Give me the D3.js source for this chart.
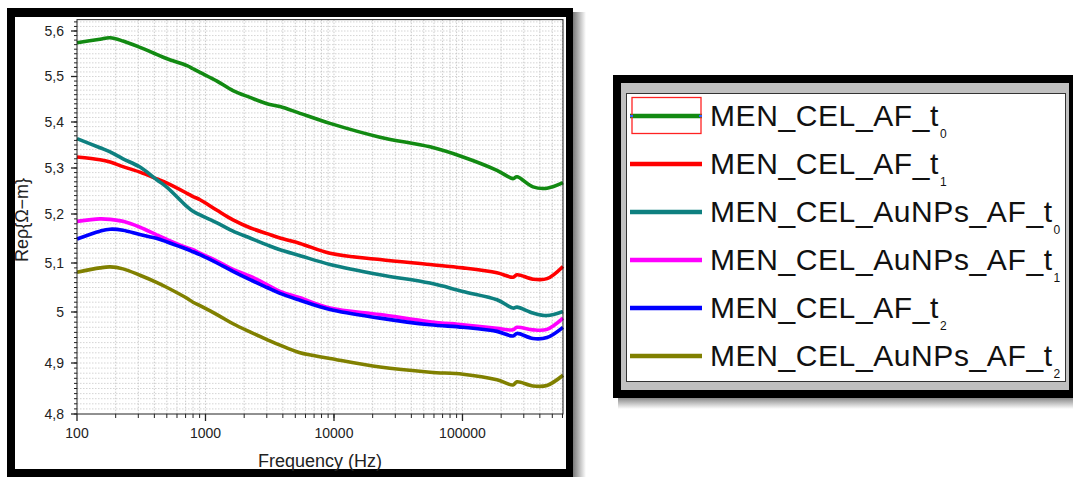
<!DOCTYPE html>
<html>
<head>
<meta charset="utf-8">
<script src="https://cdn.jsdelivr.net/npm/d3@7"></script>
<style>
  html, body { margin: 0; padding: 0; background: #fff; }
  svg { display: block; font-family: "Liberation Sans", Arial, sans-serif; }
</style>
</head>
<body>
<div id="chart"></div>
<script>
// Frequencies (Hz) shared by all series
const freqs = [100, 151, 181, 228, 309, 420, 502, 718, 799, 906, 1229, 1637, 2220, 3010, 3800,
    5438, 9306, 22790, 55850, 100900, 185400, 247200, 265500, 353800, 454800, 605700];

const afT0 = [5.574, 5.582, 5.585, 5.578, 5.564, 5.548, 5.539, 5.524, 5.517, 5.509, 5.490, 5.469, 5.454,
    5.440, 5.434, 5.419, 5.397, 5.367, 5.346, 5.324, 5.295, 5.277, 5.281, 5.259, 5.256, 5.268];
const afT1 = [5.324, 5.318, 5.313, 5.303, 5.291, 5.276, 5.267, 5.245, 5.238, 5.231, 5.208, 5.188, 5.172,
    5.160, 5.151, 5.140, 5.120, 5.107, 5.097, 5.090, 5.080, 5.071, 5.076, 5.067, 5.068, 5.093];
const auT0 = [5.364, 5.344, 5.335, 5.320, 5.302, 5.274, 5.258, 5.216, 5.206, 5.198, 5.182, 5.165, 5.151,
    5.137, 5.127, 5.115, 5.097, 5.076, 5.059, 5.042, 5.025, 5.008, 5.010, 4.998, 4.993, 5.001];
const auT1 = [5.185, 5.190, 5.189, 5.185, 5.173, 5.157, 5.148, 5.131, 5.127, 5.120, 5.104, 5.087, 5.073,
    5.056, 5.042, 5.029, 5.008, 4.995, 4.981, 4.975, 4.968, 4.965, 4.970, 4.965, 4.966, 4.988];
const afT2 = [5.149, 5.165, 5.169, 5.167, 5.158, 5.150, 5.143, 5.128, 5.123, 5.117, 5.100, 5.083, 5.066,
    5.050, 5.038, 5.024, 5.005, 4.988, 4.975, 4.970, 4.962, 4.953, 4.958, 4.948, 4.950, 4.970];
const auT2 = [5.081, 5.090, 5.092, 5.088, 5.075, 5.060, 5.050, 5.028, 5.020, 5.013, 4.995, 4.977, 4.961,
    4.946, 4.935, 4.920, 4.909, 4.892, 4.882, 4.878, 4.867, 4.857, 4.863, 4.855, 4.856, 4.876];

const seriesNames = ["MEN_CEL_AF_t", "MEN_CEL_AF_t", "MEN_CEL_AuNPs_AF_t", "MEN_CEL_AuNPs_AF_t", "MEN_CEL_AF_t", "MEN_CEL_AuNPs_AF_t"];
const seriesSubs = ["0", "1", "0", "1", "2", "2"];
const seriesColors = ["#128a12", "#ff0000", "#0e8080", "#ff00ff", "#0000ff", "#808000"];
const seriesValues = [afT0, afT1, auT0, auT1, afT2, auT2];

const yTicks = [4.8, 4.9, 5.0, 5.1, 5.2, 5.3, 5.4, 5.5, 5.6];
const xTicks = [100, 1000, 10000, 100000];

const W = 1074, H = 477;
const svg = d3.select("#chart").append("svg").attr("width", W).attr("height", H);

const defs = svg.append("defs");
const shR = defs.append("linearGradient").attr("id", "shadowRight");
shR.append("stop").attr("offset", "0%").attr("stop-color", "#7a7a7a");
shR.append("stop").attr("offset", "100%").attr("stop-color", "#fff");
const shB = defs.append("linearGradient").attr("id", "shadowBottom")
    .attr("x1", "0%").attr("y1", "0%").attr("x2", "0%").attr("y2", "100%");
shB.append("stop").attr("offset", "0%").attr("stop-color", "#8a8a8a");
shB.append("stop").attr("offset", "100%").attr("stop-color", "#fff");

// ---------- left panel frame ----------
svg.append("rect").attr("x", 573).attr("y", 12).attr("width", 13).attr("height", H - 12)
    .attr("fill", "url(#shadowRight)");
svg.append("rect").attr("x", 7).attr("y", 8).attr("width", 566).attr("height", H)
    .attr("fill", "#000");
svg.append("rect").attr("x", 15).attr("y", 17).attr("width", 551).attr("height", 452)
    .attr("fill", "#fff");

// scales
const x = d3.scaleLog().domain([100, 605700]).range([77, 563]);
const y = d3.scaleLinear().domain([4.8, 5.0, 5.2, 5.4, 5.6]).range([414, 312, 214, 122, 31]);
const yTop = 5.625;

const plot = svg.append("g");

// grid at minor positions
const xMinor = [];
for (let dec = 100; dec <= 100000; dec *= 10) {
    for (let m = 1; m <= 9; m++) {
        const v = dec * m;
        if (v > 100 && v < 605700) xMinor.push(v);
    }
}
const yMinor = d3.range(481, 563).map(d => d / 100);

plot.selectAll(".gx").data(xMinor).enter().append("line")
    .attr("x1", d => x(d)).attr("x2", d => x(d))
    .attr("y1", y(yTop)).attr("y2", y(4.8))
    .attr("stroke", "#bdbdbd").attr("stroke-width", 0.8).attr("stroke-dasharray", "1.5,1.5");
plot.selectAll(".gy").data(yMinor).enter().append("line")
    .attr("x1", x(100)).attr("x2", x(605700))
    .attr("y1", d => y(d)).attr("y2", d => y(d))
    .attr("stroke", "#cacaca").attr("stroke-width", 0.8).attr("stroke-dasharray", "1.5,1.5");

// curves
const line = d3.line()
    .x(d => x(d[0]))
    .y(d => y(d[1]))
    .curve(d3.curveCatmullRom.alpha(0.5));

seriesValues.forEach((vals, i) => {
    plot.append("path")
        .datum(freqs.map((f, k) => [f, vals[k]]))
        .attr("fill", "none")
        .attr("stroke", seriesColors[i])
        .attr("stroke-width", 3.6)
        .attr("stroke-linejoin", "round")
        .attr("d", line);
});

// plot box
plot.append("rect")
    .attr("x", x(100)).attr("y", y(yTop))
    .attr("width", x(605700) - x(100)).attr("height", y(4.8) - y(yTop))
    .attr("fill", "none").attr("stroke", "#222").attr("stroke-width", 1);

// y axis ticks
const yMinorTicks = d3.range(480, 563).map(d => d / 100);
plot.selectAll(".ymt").data(yMinorTicks).enter().append("line")
    .attr("x1", x(100) - 3).attr("x2", x(100))
    .attr("y1", d => y(d)).attr("y2", d => y(d))
    .attr("stroke", "#222").attr("stroke-width", 1);
plot.selectAll(".yt").data(yTicks).enter().append("line")
    .attr("x1", x(100) - 6).attr("x2", x(100))
    .attr("y1", d => y(d)).attr("y2", d => y(d))
    .attr("stroke", "#222").attr("stroke-width", 1.3);
plot.selectAll(".ytl").data(yTicks).enter().append("text")
    .attr("x", 64).attr("y", d => y(d)).attr("dy", "0.35em")
    .attr("text-anchor", "end").attr("font-size", 14).attr("fill", "#222")
    .text(d => String(+d.toFixed(1)).replace(".", ","));

// x axis ticks
plot.selectAll(".xmt").data(xMinor).enter().append("line")
    .attr("x1", d => x(d)).attr("x2", d => x(d))
    .attr("y1", y(4.8)).attr("y2", y(4.8) + 4)
    .attr("stroke", "#222").attr("stroke-width", 1);
plot.selectAll(".xt").data(xTicks).enter().append("line")
    .attr("x1", d => x(d)).attr("x2", d => x(d))
    .attr("y1", y(4.8)).attr("y2", y(4.8) + 7)
    .attr("stroke", "#222").attr("stroke-width", 1.3);
plot.selectAll(".xtl").data(xTicks).enter().append("text")
    .attr("x", d => x(d)).attr("y", 438)
    .attr("text-anchor", "middle").attr("font-size", 14).attr("fill", "#222")
    .text(d => d);

// axis titles
plot.append("text")
    .attr("x", 320).attr("y", 467)
    .attr("text-anchor", "middle").attr("font-size", 18).attr("fill", "#222")
    .text("Frequency (Hz)");
plot.append("text")
    .attr("transform", "translate(28,220) rotate(-90)")
    .attr("text-anchor", "middle").attr("font-size", 18).attr("fill", "#222")
    .text("Reρ{Ω−m}");

// ---------- legend ----------
const leg = svg.append("g");
leg.append("rect").attr("x", 618).attr("y", 398).attr("width", 455).attr("height", 11)
    .attr("fill", "url(#shadowBottom)");
leg.append("rect").attr("x", 613).attr("y", 75).attr("width", 460).attr("height", 323).attr("fill", "#000");
leg.append("rect").attr("x", 621).attr("y", 83).attr("width", 448).attr("height", 307).attr("fill", "#c0c0c0");
leg.append("rect").attr("x", 626.5).attr("y", 93.5).attr("width", 439).attr("height", 288)
    .attr("fill", "#fff").attr("stroke", "#333").attr("stroke-width", 1);

const rowY = i => 116 + i * 48;
seriesNames.forEach((name, i) => {
    leg.append("line")
        .attr("x1", 630).attr("x2", 702)
        .attr("y1", rowY(i)).attr("y2", rowY(i))
        .attr("stroke", seriesColors[i]).attr("stroke-width", 4.5);
    const t = leg.append("text")
        .attr("x", 710).attr("y", rowY(i) + 9.5)
        .attr("font-size", 30).attr("letter-spacing", 0.6).attr("fill", "#111");
    t.append("tspan").text(name);
    t.append("tspan").attr("font-size", 12).attr("dx", 1).attr("dy", 12).text(seriesSubs[i]);
});
// selection marker on the first entry
leg.append("rect").attr("x", 632).attr("y", 97.5).attr("width", 69).attr("height", 36)
    .attr("fill", "none").attr("stroke", "#f22").attr("stroke-width", 1.3);
leg.append("line").attr("x1", 630).attr("x2", 633).attr("y1", rowY(0)).attr("y2", rowY(0))
    .attr("stroke", "#3060ff").attr("stroke-width", 2);
leg.append("line").attr("x1", 699).attr("x2", 702).attr("y1", rowY(0)).attr("y2", rowY(0))
    .attr("stroke", "#3060ff").attr("stroke-width", 2);
</script>
</body>
</html>
